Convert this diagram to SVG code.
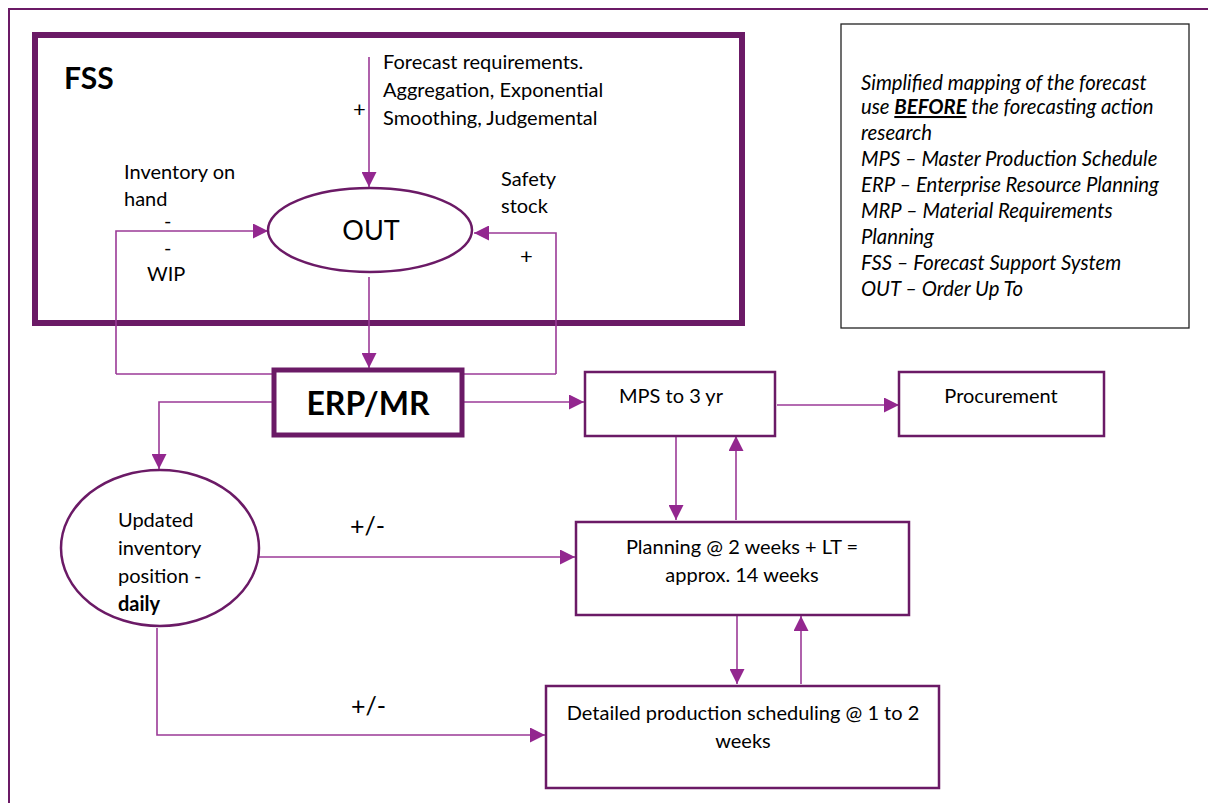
<svg xmlns="http://www.w3.org/2000/svg" width="1208" height="803" viewBox="0 0 1208 803">
<defs>
<marker id="ah" markerUnits="userSpaceOnUse" markerWidth="15" markerHeight="15" refX="15" refY="7.5" orient="auto">
<path d="M0,0 L15,7.5 L0,15 z" fill="#93278F"/>
</marker>
<style>
.t{font-family:Lato,"Open Sans",sans-serif;font-size:20px;fill:#000}
.c{fill:none;stroke:#9B3A97;stroke-width:1.6}
.a{marker-end:url(#ah)}
.bx{fill:#fff;stroke:#6B1A66;stroke-width:2.5}
.lg{font-family:Lato,"Open Sans",sans-serif;font-size:20.3px;font-style:italic;fill:#000}
</style>
</defs>
<rect x="0" y="0" width="1208" height="803" fill="#fff"/>
<rect x="9" y="9" width="1215" height="810" fill="none" stroke="#6B1A66" stroke-width="2"/>

<g id="fss">
<rect x="35" y="35" width="707" height="288" fill="#fff" stroke="#6B1A66" stroke-width="6"/>
<text x="64" y="89" font-family="Lato,'Open Sans',sans-serif" font-size="30" font-weight="bold">FSS</text>
</g>

<g id="connectors">
<line class="c a" x1="369" y1="57" x2="369" y2="187"/>
<polyline class="c a" points="116,374 116,231 268,231"/>
<line class="c" x1="116" y1="374" x2="274" y2="374"/>
<polyline class="c a" points="556,374 556,233 474,233"/>
<line class="c" x1="462" y1="374" x2="556" y2="374"/>
<line class="c a" x1="369" y1="277" x2="369" y2="368"/>
<line class="c a" x1="463" y1="402" x2="584" y2="402"/>
<line class="c a" x1="777" y1="405" x2="899" y2="405"/>
<line class="c a" x1="676" y1="437" x2="676" y2="520"/>
<line class="c a" x1="736" y1="520" x2="736" y2="436"/>
<line class="c a" x1="737" y1="616" x2="737" y2="684"/>
<line class="c a" x1="801" y1="684" x2="801" y2="616"/>
<polyline class="c a" points="274,402 159,402 159,469"/>
<line class="c a" x1="259" y1="557" x2="575" y2="557"/>
<polyline class="c a" points="157,628 157,735 545,735"/>
</g>

<g id="labels">
<text class="t" x="383" y="69">Forecast requirements.</text>
<text class="t" x="383" y="97">Aggregation, Exponential</text>
<text class="t" x="383" y="125">Smoothing, Judgemental</text>
<text class="t" x="353" y="117" style="font-size:22px">+</text>
<text class="t" x="124" y="179">Inventory on</text>
<text class="t" x="124" y="206">hand</text>
<text class="t" x="164" y="228">-</text>
<text class="t" x="164" y="255">-</text>
<text class="t" x="147" y="281">WIP</text>
<text class="t" x="501" y="186">Safety</text>
<text class="t" x="501" y="213">stock</text>
<text class="t" x="520" y="264" style="font-size:22px">+</text>
<text class="t" x="350" y="535" style="font-size:25px">+/-</text>
<text class="t" x="351" y="715" style="font-size:25px">+/-</text>
</g>

<g id="out">
<ellipse cx="370" cy="230" rx="102" ry="42" fill="#fff" stroke="#6B1A66" stroke-width="2.5"/>
<text class="t" x="371" y="240" text-anchor="middle" style="font-size:27px">OUT</text>
</g>

<g id="erp">
<rect x="274" y="370" width="188" height="65" fill="#fff" stroke="#6B1A66" stroke-width="5"/>
<text x="368" y="415" font-family="Lato,'Open Sans',sans-serif" font-size="32" font-weight="bold" text-anchor="middle">ERP/MR</text>
</g>

<g id="mps">
<rect class="bx" x="585" y="372" width="190" height="64"/>
<text class="t" x="671" y="403" text-anchor="middle">MPS to 3 yr</text>
</g>

<g id="procurement">
<rect class="bx" x="899" y="372" width="205" height="64"/>
<text class="t" x="1001" y="403" text-anchor="middle">Procurement</text>
</g>

<g id="planning">
<rect class="bx" x="576" y="522" width="333" height="93"/>
<text class="t" x="742" y="554" text-anchor="middle">Planning @ 2 weeks + LT =</text>
<text class="t" x="742" y="582" text-anchor="middle">approx. 14 weeks</text>
</g>

<g id="detailed">
<rect class="bx" x="546" y="686" width="393" height="102"/>
<text class="t" x="743" y="720" text-anchor="middle">Detailed production scheduling @ 1 to 2</text>
<text class="t" x="743" y="748" text-anchor="middle">weeks</text>
</g>

<g id="updated">
<ellipse cx="160" cy="548" rx="99" ry="78" fill="#fff" stroke="#6B1A66" stroke-width="2.5"/>
<text class="t" x="118" y="527">Updated</text>
<text class="t" x="118" y="555">inventory</text>
<text class="t" x="118" y="583">position -</text>
<text class="t" x="118" y="611" font-weight="bold">daily</text>
</g>

<g id="legend">
<rect x="841" y="24" width="348" height="304" fill="#fff" stroke="#222" stroke-width="1.3"/>
<text class="lg" x="861" y="90">Simplified mapping of the forecast</text>
<text class="lg" x="861" y="114">use <tspan font-weight="bold" text-decoration="underline">BEFORE</tspan> the forecasting action</text>
<text class="lg" x="861" y="140">research</text>
<text class="lg" x="861" y="166">MPS – Master Production Schedule</text>
<text class="lg" x="861" y="192">ERP – Enterprise Resource Planning</text>
<text class="lg" x="861" y="218">MRP – Material Requirements</text>
<text class="lg" x="861" y="244">Planning</text>
<text class="lg" x="861" y="270">FSS – Forecast Support System</text>
<text class="lg" x="861" y="296">OUT – Order Up To</text>
</g>
</svg>
